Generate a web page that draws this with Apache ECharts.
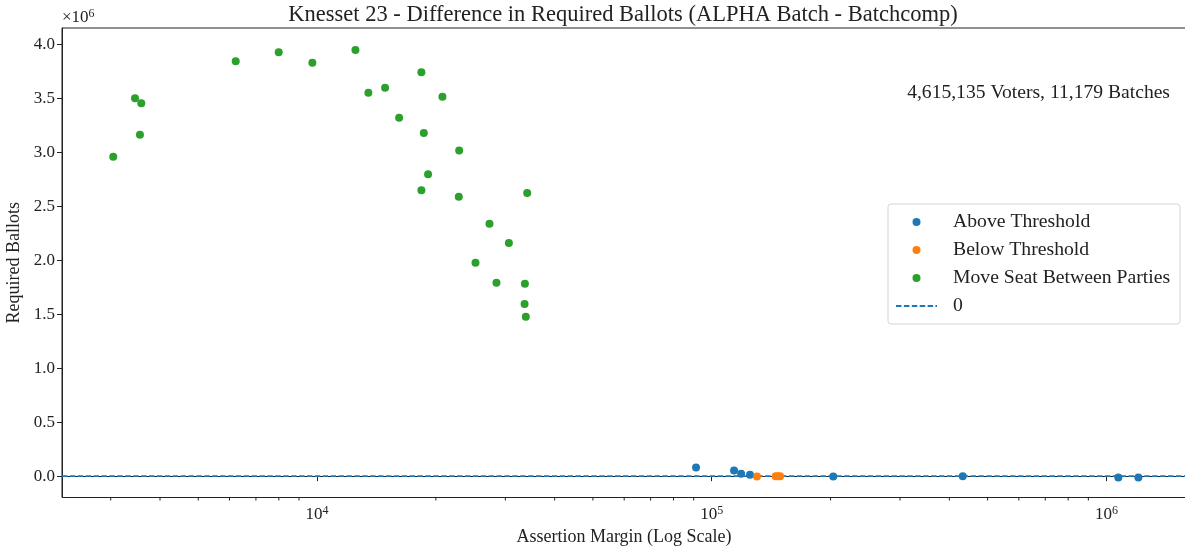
<!DOCTYPE html>
<html>
<head>
<meta charset="utf-8">
<script src="https://cdn.jsdelivr.net/npm/echarts@6/dist/echarts.min.js"></script>
<style>
  html, body { margin: 0; padding: 0; background: #fff; }
  #chart { width: 1185px; height: 552px; }
</style>
</head>
<body>
<div id="chart"></div>
<script>
// values
var aboveX = [91250, 113900, 118700, 125000, 203200, 432500, 1072000, 1205000];
var aboveY = [81000, 53000, 21000, 12000, -3000, -2000, -12000, -12000];

var belowX = [130200, 145200, 147000, 149000];
var belowY = [-3000, 0, -2000, 0];

var moveX = [3045, 3457, 3586, 3558, 6221, 7995, 9730, 12510, 13490, 14870, 16140, 18380, 20780,
  18640, 22910, 19110, 18380, 22860, 34070, 27340, 30620, 25200, 28480, 33620, 33560, 33800];
var moveY = [2.959, 3.500, 3.454, 3.163, 3.843, 3.927, 3.830, 3.948, 3.552, 3.599, 3.321, 3.741, 3.515,
  3.179, 3.018, 2.796, 2.648, 2.589, 2.623, 2.338, 2.159, 1.977, 1.792, 1.782, 1.594, 1.477];

var xMajor = [1e4, 1e5, 1e6];
var xMinor = [3e3, 4e3, 5e3, 6e3, 7e3, 8e3, 9e3,
  2e4, 3e4, 4e4, 5e4, 6e4, 7e4, 8e4, 9e4,
  2e5, 3e5, 4e5, 5e5, 6e5, 7e5, 8e5, 9e5];
var yTicks = [0, 0.5e6, 1e6, 1.5e6, 2e6, 2.5e6, 3e6, 3.5e6, 4e6];

var xMin = 2258, xMax = 1591000;
var yMin = -0.198e6, yMax = 4.152e6;

var serif = '"Liberation Serif", "DejaVu Serif", serif';
var ink = '#222';

function pairs(xs, ys, k) {
  return xs.map(function (x, i) { return [x, ys[i] * k]; });
}

var chart = echarts.init(document.getElementById('chart'));
chart.setOption({
  animation: false,
  grid: {
    left: 62, right: -1, top: 28, bottom: 54.5,
    outerBoundsMode: 'none', containLabel: false,
    show: true, borderColor: ink, borderWidth: 1, backgroundColor: 'transparent'
  },
  graphic: [
    {
      type: 'text', x: 623, y: 15,
      style: {
        text: 'Knesset 23 - Difference in Required Ballots (ALPHA Batch - Batchcomp)',
        align: 'center', verticalAlign: 'middle', fill: ink,
        font: '22.5px ' + serif
      }
    },
    {
      type: 'text', x: 1170, y: 93,
      style: {
        text: '4,615,135 Voters, 11,179 Batches',
        align: 'right', verticalAlign: 'middle', fill: ink,
        font: '19.6px ' + serif
      }
    },
    {
      type: 'text', x: 62, y: 18,
      style: {
        text: '×10{sup|6}',
        align: 'left', verticalAlign: 'middle', fill: ink,
        font: '17px ' + serif,
        rich: { sup: { fontSize: 12, fontFamily: serif, verticalAlign: 'top', padding: [0, 0, 8, 0], fill: ink } }
      }
    }
  ],
  legend: {
    orient: 'vertical',
    left: 888, top: 204,
    padding: [8, 10, 8, 7],
    itemWidth: 41, itemHeight: 8,
    itemGap: 8,
    backgroundColor: 'rgba(255,255,255,0.8)',
    borderColor: '#d4d4d4', borderWidth: 1, borderRadius: 3,
    textStyle: { fontFamily: serif, fontSize: 19.7, color: ink, lineHeight: 20, padding: [0, 0, 0, 11] },
    data: ['Above Threshold', 'Below Threshold', 'Move Seat Between Parties',
      { name: '0', itemStyle: { opacity: 0 } }]
  },
  xAxis: {
    type: 'log', logBase: 10, min: xMin, max: xMax,
    name: 'Assertion Margin (Log Scale)', nameLocation: 'middle', nameGap: 28,
    nameTextStyle: { fontFamily: serif, fontSize: 18, color: ink },
    axisLine: { show: true, lineStyle: { color: ink, width: 1 } },
    axisTick: { show: true, length: 5, lineStyle: { color: ink }, customValues: xMajor },
    axisLabel: {
      color: ink, fontFamily: serif, fontSize: 17, margin: 7,
      customValues: xMajor,
      formatter: function (v) { return '10{sup|' + Math.round(Math.log10(v)) + '}'; },
      rich: { sup: { fontSize: 12, fontFamily: serif, verticalAlign: 'top', padding: [0, 0, 8, 0], color: ink } }
    },
    splitLine: { show: false }
  },
  yAxis: {
    type: 'value', min: yMin, max: yMax,
    name: 'Required Ballots', nameLocation: 'middle', nameGap: 36, nameRotate: 90,
    nameTextStyle: { fontFamily: serif, fontSize: 18, color: ink },
    axisLine: { show: true, lineStyle: { color: ink, width: 1 } },
    axisTick: { show: true, length: 5, lineStyle: { color: ink }, customValues: yTicks },
    axisLabel: {
      color: ink, fontFamily: serif, fontSize: 17, margin: 7,
      customValues: yTicks,
      formatter: function (v) { return (v / 1e6).toFixed(1); }
    },
    splitLine: { show: false }
  },
  series: [
    {
      name: '0', type: 'line', data: [[xMin, 0], [xMax, 0]],
      symbol: 'none', z: 1,
      lineStyle: { color: '#1f77b4', width: 1.6, type: [5.5, 2.4] },
      itemStyle: { color: '#1f77b4' }
    },
    {
      name: 'Above Threshold', type: 'scatter', data: pairs(aboveX, aboveY, 1),
      symbolSize: 8, itemStyle: { color: '#1f77b4', opacity: 1 }, z: 3
    },
    {
      name: 'Below Threshold', type: 'scatter', data: pairs(belowX, belowY, 1),
      symbolSize: 8, itemStyle: { color: '#ff7f0e', opacity: 1 }, z: 3
    },
    {
      name: 'Move Seat Between Parties', type: 'scatter', data: pairs(moveX, moveY, 1e6),
      symbolSize: 8, itemStyle: { color: '#2ca02c', opacity: 1 }, z: 3
    },
    {
      // minor ticks on the log axis
      type: 'custom', silent: true, clip: false,
      data: xMinor.map(function (v) { return [v, yMin]; }),
      renderItem: function (params, api) {
        var p = api.coord([api.value(0), api.value(1)]);
        return {
          type: 'line',
          shape: { x1: p[0], y1: p[1], x2: p[0], y2: p[1] + 3 },
          style: { stroke: ink, lineWidth: 1 }
        };
      }
    }
  ]
});
</script>
</body>
</html>
